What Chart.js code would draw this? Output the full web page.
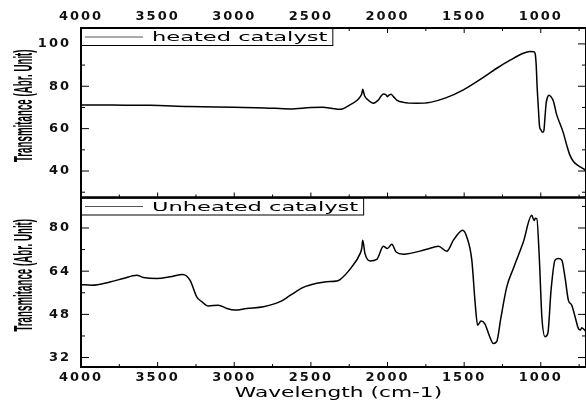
<!DOCTYPE html>
<html>
<head>
<meta charset="utf-8">
<title>FTIR spectra</title>
<script src="https://cdn.jsdelivr.net/npm/chart.js@4.4.1/dist/chart.umd.min.js"></script>
<style>
  html, body { margin: 0; padding: 0; background: #fff; }
  canvas { display: block; }
</style>
</head>
<body>
<canvas id="Spectra" width="586" height="400"></canvas>
<script>
// readings taken off the spectra, wavenumber (cm-1) vs transmittance
const heatedWave = [4000, 3800, 3550, 3300, 3000, 2800, 2636, 2500, 2421, 2360, 2310, 2250, 2200, 2179, 2168,
    2162, 2150, 2127, 2092, 2060, 2027, 2010, 2001, 1990, 1977, 1960, 1940, 1897, 1809, 1722, 1620, 1505,
    1400, 1287, 1200, 1114, 1070, 1045, 1037, 1030, 1024, 1016, 1008, 1000, 988, 980, 972, 965, 955, 946,
    935, 918, 896, 870, 853, 830, 810, 787, 765, 744, 720, 705];
const heatedTrans = [71.2, 71.1, 71.0, 70.5, 70.1, 69.8, 69.3, 70.0, 70.1, 69.5, 69.1, 71.0, 73.3, 75.0, 76.5,
    78.6, 75.5, 73.5, 72.0, 73.5, 76.4, 76.0, 75.1, 75.8, 76.2, 75.0, 73.5, 72.4, 72.0, 72.4, 74.5, 78.3,
    83.0, 88.5, 92.3, 95.6, 96.4, 96.3, 95.5, 90.0, 80.0, 70.0, 61.0, 59.5, 58.3, 59.0, 66.0, 72.0, 75.0, 75.8,
    75.2, 73.0, 66.5, 61.5, 58.0, 52.0, 47.5, 44.5, 43.0, 42.0, 41.0, 40.0];

const unheatedWave = [4000, 3930, 3811, 3724, 3637, 3593, 3506, 3419, 3336, 3289, 3245, 3212, 3169, 3104, 3049,
    2995, 2919, 2810, 2701, 2636, 2549, 2462, 2400, 2331, 2310, 2233, 2179, 2168, 2162, 2147, 2114, 2070,
    2027, 2001, 1972, 1944, 1897, 1744, 1668, 1613, 1570, 1509, 1483, 1450, 1429, 1412, 1390, 1365, 1335,
    1309, 1287, 1261, 1222, 1179, 1114, 1059, 1044, 1036, 1026, 1009, 993, 972, 954, 933, 907, 885, 863,
    841, 820, 798, 778, 755, 742, 733, 705];
const unheatedTrans = [59.1, 58.8, 60.0, 61.3, 62.5, 61.7, 61.3, 61.9, 62.8, 60.7, 54.5, 52.7, 51.1, 51.4, 50.2,
    49.6, 50.2, 50.8, 52.7, 55.0, 58.0, 59.5, 60.1, 60.4, 60.9, 65.6, 70.5, 72.5, 75.5, 70.5, 67.8, 68.4,
    73.2, 72.4, 74.0, 71.1, 70.3, 72.1, 73.2, 71.4, 75.5, 79.2, 76.7, 68.1, 52.7, 44.0, 45.5, 44.5, 40.0,
    37.2, 38.0, 46.5, 58.2, 65.0, 74.8, 84.7, 82.8, 83.6, 83.5, 68.1, 47.1, 39.7, 41.0, 57.0, 68.1, 68.7, 68.1,
    61.3, 53.3, 51.4, 47.5, 42.8, 42.2, 43.0, 41.6];

const xTicks = [4000, 3500, 3000, 2500, 2000, 1500, 1000];
const xMinorTicks = [3750, 3250, 2750, 2250, 1750, 1250, 750];
const heatedTicks = [40, 60, 80, 100];
const heatedMinorTicks = [30, 50, 70, 90];
const unheatedTicks = [32, 48, 64, 80];
const unheatedMinorTicks = [40, 56, 72, 88];

function toPoints(xs, ys) {
    return xs.map(function(x, i) { return {x: x, y: ys[i]}; });
}

function line(ctx, x1, y1, x2, y2) {
    ctx.beginPath();
    ctx.moveTo(x1, y1);
    ctx.lineTo(x2, y2);
    ctx.stroke();
}

// frames, inner ticks, boxed legends and the stretched axis titles
const panels = {
    id: 'panels',
    beforeDraw(chart) {
        chart.ctx.letterSpacing = '2px';
    },
    afterDraw(chart) {
        const ctx = chart.ctx;
        const area = chart.chartArea;
        const xs = chart.scales.x;
        const yTop = chart.scales.yHeated;
        const yBot = chart.scales.yUnheated;
        ctx.save();
        ctx.letterSpacing = '0px';
        ctx.strokeStyle = '#000';
        ctx.lineWidth = 1;

        [[yTop.top, 1], [yTop.bottom, -1], [yBot.bottom, -1]].forEach(function(row) {
            xTicks.forEach(function(v) {
                const px = xs.getPixelForValue(v);
                line(ctx, px, row[0], px, row[0] + row[1] * 5);
            });
            xMinorTicks.forEach(function(v) {
                const px = xs.getPixelForValue(v);
                line(ctx, px, row[0], px, row[0] + row[1] * 3);
            });
        });
        [[yTop, heatedTicks, heatedMinorTicks], [yBot, unheatedTicks, unheatedMinorTicks]].forEach(function(p) {
            p[1].forEach(function(v) {
                const py = p[0].getPixelForValue(v);
                line(ctx, area.left, py, area.left + 8, py);
                line(ctx, area.right, py, area.right - 8, py);
            });
            p[2].forEach(function(v) {
                const py = p[0].getPixelForValue(v);
                line(ctx, area.left, py, area.left + 4, py);
                line(ctx, area.right, py, area.right - 4, py);
            });
        });

        // legend box in the corner of each panel
        const stretch = 1.88;
        chart.data.datasets.forEach(function(ds) {
            const ys = chart.scales[ds.yAxisID];
            ctx.font = '12px "DejaVu Sans"';
            const tw = ctx.measureText(ds.label).width * stretch;
            const bx = area.left, by = ys.top, bw = 71 + tw + 5, bh = 17;
            ctx.fillStyle = '#fff';
            ctx.fillRect(bx, by, bw, bh);
            ctx.strokeStyle = '#000';
            ctx.lineWidth = 1;
            ctx.strokeRect(bx + 0.5, by + 0.5, bw, bh);
            ctx.strokeStyle = '#555';
            line(ctx, bx + 4, by + 9, bx + 62, by + 9);
            ctx.save();
            ctx.fillStyle = '#000';
            ctx.translate(bx + 71, by + 13);
            ctx.scale(stretch, 1);
            ctx.fillText(ds.label, 0, 0);
            ctx.restore();
        });

        ctx.strokeStyle = '#000';
        ctx.lineWidth = 2;
        [yTop, yBot].forEach(function(ys) {
            ctx.strokeRect(area.left, ys.top, area.right - area.left, ys.bottom - ys.top);
        });

        ctx.fillStyle = '#000';
        ctx.textAlign = 'center';
        ctx.textBaseline = 'alphabetic';
        [yTop, yBot].forEach(function(ys) {
            ctx.save();
            ctx.translate(32, (ys.top + ys.bottom) / 2 - 7);
            ctx.rotate(-Math.PI / 2);
            ctx.scale(0.39, 1);
            ctx.font = 'bold 25px "Liberation Sans"';
            ctx.fillText(ys.options.title.text, 0, 0);
            ctx.restore();
        });

        ctx.save();
        ctx.translate((area.left + area.right) / 2 + 5, 397);
        ctx.scale(1.55, 1);
        ctx.font = '14px "DejaVu Sans"';
        ctx.fillText(xs.options.title.text, 0, 0);
        ctx.restore();

        ctx.restore();
    }
};

const tickFont = {family: 'DejaVu Sans', size: 13, weight: 'bold'};

function plainTick(value) {
    return String(value);
}

function xAxis(position, height, pad) {
    return {
        type: 'linear',
        position: position,
        reverse: true,
        min: 705,
        max: 4000,
        grid: {display: false, drawTicks: false},
        border: {display: false},
        ticks: {font: tickFont, color: '#111', padding: pad, maxRotation: 0, autoSkip: false, callback: plainTick},
        afterBuildTicks: function(scale) { scale.ticks = xTicks.map(function(v) { return {value: v}; }); },
        afterFit: function(scale) { scale.height = height; }
    };
}

function yAxis(min, max, major, weight) {
    return {
        type: 'linear',
        position: 'left',
        stack: 'spectra',
        stackWeight: 1,
        weight: weight,
        min: min,
        max: max,
        grid: {display: false, drawTicks: false},
        border: {display: false},
        title: {display: false, text: 'Transmitance (Abr. Unit)'},
        ticks: {font: tickFont, color: '#111', padding: 10, callback: plainTick},
        afterBuildTicks: function(scale) { scale.ticks = major.map(function(v) { return {value: v}; }); },
        afterFit: function(scale) { scale.width = 81; }
    };
}

const xBottom = xAxis('bottom', 33, 3);
xBottom.title = {display: false, text: 'Wavelength (cm-1)'};

const ctx = document.getElementById('Spectra');
const spectraChart = new Chart(ctx, {
    type: 'line',
    data: {
        datasets: [{
            label: 'heated catalyst',
            data: toPoints(heatedWave, heatedTrans),
            xAxisID: 'x',
            yAxisID: 'yHeated',
            borderColor: '#000',
            borderWidth: 1.5,
            pointRadius: 0,
            cubicInterpolationMode: 'monotone'
        }, {
            label: 'Unheated catalyst',
            data: toPoints(unheatedWave, unheatedTrans),
            xAxisID: 'x',
            yAxisID: 'yUnheated',
            borderColor: '#000',
            borderWidth: 1.5,
            pointRadius: 0,
            cubicInterpolationMode: 'monotone'
        }]
    },
    options: {
        responsive: false,
        animation: false,
        devicePixelRatio: 1,
        layout: {padding: 0},
        scales: {
            x: xBottom,
            xTop: xAxis('top', 28, 4),
            yHeated: yAxis(27.5, 107.5, heatedTicks, 1),
            yUnheated: yAxis(28.5, 91.3, unheatedTicks, 0)
        },
        plugins: {
            legend: {display: false},
            tooltip: {enabled: false}
        }
    },
    plugins: [panels]
});
</script>
</body>
</html>
